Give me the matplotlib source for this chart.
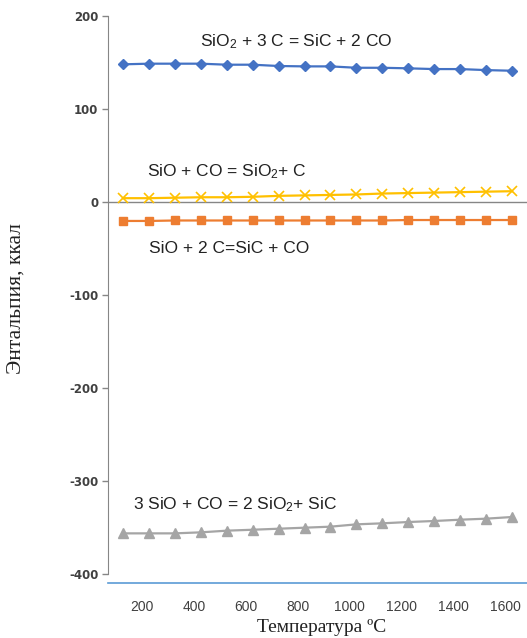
import matplotlib
matplotlib.use("Agg")
import matplotlib.pyplot as plt

# DATA

temps = [127, 227, 327, 427, 527, 627, 727, 827, 927, 1027, 1127, 1227, 1327, 1427, 1527, 1627]

sio2_3c = [148.0, 148.7, 148.7, 148.7, 147.6, 147.6, 146.2, 145.8, 145.8, 144.3, 144.3,
           143.7, 142.9, 142.9, 141.8, 141.1]
sio_co = [4.0, 4.0, 4.5, 5.0, 5.0, 5.5, 6.5, 7.0, 7.5, 8.0, 9.0, 9.5, 10.0, 10.5, 11.0, 11.5]
sio_2c = [-20.5, -20.5, -20.0, -20.0, -20.0, -20.0, -20.0, -20.0, -20.0, -20.0, -20.0,
          -19.5, -19.5, -19.5, -19.5, -19.5]
sio3_co = [-356.6, -356.6, -356.6, -355.5, -353.7, -352.7, -351.6, -350.5, -349.4, -346.9,
           -345.8, -344.4, -343.3, -341.9, -340.8, -339.0]

x_ticks = [200, 400, 600, 800, 1000, 1200, 1400, 1600]
y_ticks = [-400, -300, -200, -100, 0, 100, 200]

labels = ["SiO$_2$ + 3 C = SiC + 2 CO", "SiO + CO = SiO$_2$+ C",
          "SiO + 2 C=SiC + CO", "3 SiO + CO = 2 SiO$_2$+ SiC"]

plt.rcParams['mathtext.fontset'] = 'custom'
plt.rcParams['mathtext.rm'] = 'Liberation Sans'
plt.rcParams['mathtext.it'] = 'Liberation Sans'
plt.rcParams['axes.unicode_minus'] = False

fig = plt.figure(figsize=(5.27, 6.38), dpi=100)
ax = fig.add_axes([108 / 527, 1 - 583 / 638, 1 - 108 / 527, (583 - 16) / 638])

# SERIES

ax.plot(temps, sio2_3c, color='#4472C4', lw=1.6, marker='D', ms=5.5, zorder=3)
ax.plot(temps, sio_co, color='#FFC000', lw=1.6, marker='x', ms=7, mew=1.2, zorder=3)
ax.plot(temps, sio_2c, color='#ED7D31', lw=1.6, marker='s', ms=6, zorder=3)
ax.plot(temps, sio3_co, color='#A5A5A5', lw=1.6, marker='^', ms=6.5, zorder=3)

# ZERO LINE

ax.axhline(0, color='#868686', lw=1, zorder=2)

ax.set_xlim(69, 1685)
ax.set_ylim(-410, 200)

ax.set_xticks(x_ticks)
ax.set_yticks(y_ticks)
ax.tick_params(axis='x', length=0, pad=12, labelsize=10, labelcolor='#404040')
ax.tick_params(axis='y', length=4, width=1, color='#868686', pad=3, labelsize=8.5,
               labelcolor='#404040')
for t in ax.get_xticklabels():
    t.set_fontfamily('Liberation Sans')
for t in ax.get_yticklabels():
    t.set_fontweight('bold')

ax.spines['top'].set_visible(False)
ax.spines['right'].set_visible(False)
ax.spines['left'].set_edgecolor('#868686')
ax.spines['left'].set_bounds(-400, 200)
ax.spines['bottom'].set_edgecolor('#5B9BD5')
ax.spines['bottom'].set_linewidth(1.2)

# REACTION LABELS

txt = dict(fontsize=12.5, family='Liberation Sans', color='#222222', va='center', ha='left')
ax.text(424, 172.8, labels[0], **txt)
ax.text(219, 33, labels[1], **txt)
ax.text(227, -49.8, labels[2], **txt)
ax.text(165, -326, labels[3], **txt)

# AXIS TITLES

fig.text(322 / 527, 1 - 627 / 638, "Температура ºC", family='Liberation Serif',
         fontsize=14, ha='center', va='center', color='#222222')
fig.text(16 / 527, 1 - 298 / 638, "Энтальпия, ккал", family='Liberation Serif',
         fontsize=15.5, ha='center', va='center', rotation=90, color='#222222')

fig.savefig("out.png", dpi=100)
